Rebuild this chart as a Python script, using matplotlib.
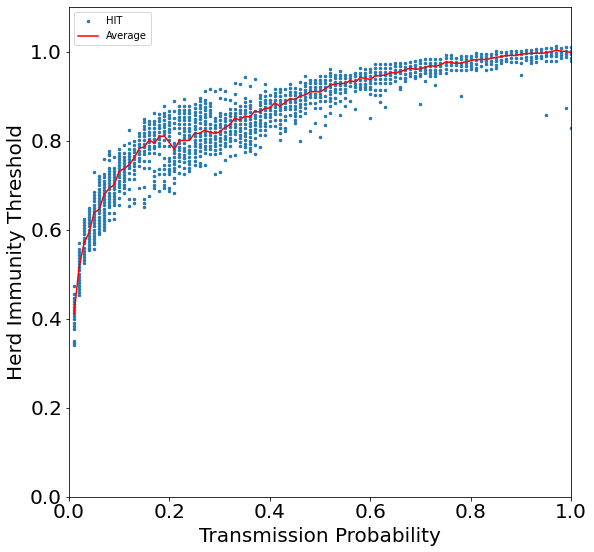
import matplotlib
matplotlib.use("Agg")
import matplotlib.pyplot as plt

# transmission probability steps, 0.01 .. 1.00 (in hundredths)
steps = list(range(1, 101))

# HIT values in thousandths, one list per transmission probability
hit_low = [
    [474, 454, 447, 440, 433, 426, 419, 412, 405, 398, 391, 384, 377, 349, 345, 340],
    [570, 557, 550, 543, 536, 529, 522, 515, 508, 501, 494, 487, 480, 473, 466, 459, 452],
    [624, 617, 610, 603, 596, 589, 582, 575, 570, 559, 552, 545, 538, 531, 525],
    [649, 642, 635, 628, 621, 614, 607, 600, 593, 586, 579, 572, 565, 558, 555],
    [730, 684, 677, 670, 663, 656, 649, 642, 635, 628, 621, 614, 607, 600, 593, 586, 579, 572, 567, 557],
    [720, 713, 706, 699, 692, 685, 678, 671, 664, 657, 650, 643, 636, 629, 622, 615, 608, 601, 594, 589],
    [759, 724, 717, 710, 703, 696, 689, 682, 675, 668, 661, 654, 647, 640, 633, 626, 619, 612, 605, 600],
    [776, 770, 767, 756, 739, 732, 725, 718, 711, 704, 697, 690, 683, 676, 669, 662, 655, 651, 637, 621],
    [764, 739, 732, 725, 718, 711, 704, 697, 690, 683, 676, 669, 662, 656, 638, 624],
    [780, 773, 766, 759, 752, 745, 738, 731, 724, 717, 710, 703, 696, 686, 671, 656],
    [789, 771, 764, 757, 750, 743, 736, 729, 722, 715, 708, 701, 694, 683],
    [823, 795, 780, 773, 766, 759, 752, 745, 738, 728, 713, 690, 668, 653],
    [799, 790, 782, 774, 766, 758, 750, 742, 734, 724, 713, 669, 660],
    [817, 809, 801, 793, 785, 777, 769, 761, 753, 742, 694],
    [849, 841, 833, 825, 817, 809, 801, 793, 785, 777, 769, 754, 739, 696, 668, 660, 651],
    [844, 836, 828, 820, 812, 804, 796, 788, 780, 772, 754, 739, 675],
    [861, 844, 836, 828, 820, 812, 804, 796, 788, 784, 772, 731, 720, 709, 701, 694],
    [859, 851, 843, 835, 827, 819, 811, 803, 795, 787, 769, 735, 724, 686],
    [877, 862, 854, 846, 838, 830, 822, 814, 802, 787, 761, 746, 735, 724, 709, 701, 694],
    [866, 858, 850, 842, 834, 826, 818, 810, 802, 787, 761, 753, 745, 737, 731, 724, 694, 686],
]
hit_mid = [
    [889, 866, 851, 840, 829, 795, 787, 779, 771, 763, 755, 747, 739, 731, 716, 705, 683],
    [877, 869, 861, 853, 845, 837, 829, 817, 802, 794, 786, 778, 770, 762, 754, 742, 727],
    [894, 877, 869, 861, 853, 845, 837, 829, 821, 813, 805, 795, 784, 776, 768, 760, 752, 739, 724],
    [877, 869, 861, 853, 845, 837, 829, 821, 813, 806, 787, 779, 771, 763, 755, 747, 739, 731],
    [881, 873, 865, 857, 849, 841, 833, 825, 817, 809, 802, 795, 787, 779, 771, 763, 755, 746],
    [896, 888, 880, 872, 864, 856, 848, 840, 829, 817, 809, 801, 793, 785, 777, 765, 750, 742],
    [911, 892, 884, 876, 868, 860, 852, 844, 836, 828, 820, 812, 804, 796, 788, 780, 772, 746],
    [915, 885, 877, 869, 861, 855, 836, 828, 820, 812, 804, 796, 788, 780, 769],
    [911, 851, 843, 835, 827, 819, 811, 803, 795, 787, 779, 769, 724],
    [916, 896, 862, 854, 846, 838, 830, 822, 814, 806, 798, 790, 782, 772, 729],
    [911, 894, 859, 851, 843, 835, 827, 819, 811, 803, 795, 787, 757],
    [892, 870, 862, 854, 846, 838, 830, 822, 814, 806, 798, 787, 765],
    [930, 905, 885, 870, 862, 854, 846, 838, 830, 822, 814, 802, 768],
    [926, 877, 869, 861, 853, 845, 837, 829, 821, 813, 805, 797, 787],
    [943, 896, 886, 877, 869, 861, 853, 845, 837, 828, 817, 809, 801, 793, 785, 774],
    [922, 888, 880, 872, 864, 856, 848, 840, 832, 824, 816, 808, 800, 792, 784, 776],
    [938, 866, 858, 850, 842, 834, 826, 818, 806, 791, 770],
    [903, 895, 887, 879, 871, 863, 855, 847, 840, 832, 824, 813, 786],
    [928, 911, 900, 892, 884, 876, 868, 860, 852, 840, 832, 824, 813],
    [903, 892, 884, 876, 868, 860, 852, 844, 832],
    [915, 907, 899, 891, 883, 875, 867, 859, 847, 832],
    [916, 908, 900, 892, 884, 876, 868, 860, 847, 836, 827, 817, 802],
    [916, 903, 892, 884, 876, 870, 855, 847, 828, 821],
    [926, 918, 910, 902, 894, 886, 878, 870, 858],
    [918, 910, 902, 894, 886, 878, 870, 862, 854, 847, 840],
    [931, 915, 907, 899, 891, 883, 875, 866, 855, 800],
    [945, 930, 922, 914, 906, 898, 890, 882, 874, 862],
    [937, 929, 921, 913, 905, 897, 885, 822],
    [937, 929, 921, 913, 905, 897, 885, 873, 840],
    [945, 937, 929, 921, 913, 905, 897, 888, 873, 808],
]
hit_high = [
    [945, 937, 929, 921, 913, 900, 888, 855, 834],
    [960, 952, 944, 936, 928, 920, 912, 904, 896, 888, 877, 862],
    [948, 940, 932, 924, 916, 908, 896, 885],
    [956, 948, 940, 932, 924, 916, 907, 888, 858],
    [948, 940, 932, 924, 916, 908, 896, 877],
    [948, 940, 932, 922, 888],
    [952, 944, 936, 928, 920, 911, 871],
    [963, 952, 944, 936, 928, 920, 915],
    [960, 952, 944, 936, 928, 920, 915],
    [961, 953, 945, 937, 929, 921, 915, 905, 851],
    [971, 963, 955, 947, 939, 930, 913, 903],
    [971, 963, 955, 947, 939, 930, 913, 903, 887],
    [971, 963, 955, 947, 939, 930, 913, 875],
    [971, 963, 955, 947, 939, 930],
    [975, 967, 959, 951, 943, 933],
    [975, 967, 959, 951, 940, 921, 916],
    [974, 966, 958, 950, 940, 933],
    [976, 968, 960, 952, 944],
    [978, 970, 962, 954, 946, 940],
    [982, 974, 966, 958, 950, 944, 882],
    [983, 974, 966, 958, 952, 933],
    [983, 975, 967, 959, 951, 946],
    [983, 975, 967, 959, 951, 946, 925],
    [983, 975, 967, 959, 952],
    [993, 985, 977, 969, 961, 952],
    [993, 985, 977, 969, 959],
    [985, 977, 969, 958],
    [991, 983, 975, 967, 959, 901],
    [991, 983, 975, 967, 959],
    [991, 983, 975, 967, 961],
    [997, 989, 981, 973, 963, 958],
    [995, 987, 979, 968],
    [995, 987, 979, 971, 959],
    [995, 987, 979, 971, 961],
    [1002, 994, 986, 978, 970, 963],
    [998, 990, 982, 974],
    [1000, 992, 984, 978],
    [1002, 994, 986, 976],
    [1002, 994, 986, 976],
    [1002, 994, 986, 974, 947],
    [1004, 996, 988, 982],
    [1004, 996, 988, 982, 974],
    [1006, 998, 990, 985, 976],
    [1006, 998, 990, 985],
    [1008, 1000, 992, 989, 979, 857],
    [1008, 1000, 992, 989, 979],
    [1013, 1005, 997, 991, 979],
    [1008, 1000, 992, 985],
    [1010, 1002, 994, 988, 873],
    [1010, 1002, 994, 985, 978, 827],
]

# average HIT in thousandths
average = [
    410, 514, 570, 593, 638, 645, 679, 692, 701, 731,
    737, 746, 761, 782, 786, 801, 794, 809, 810, 795,
    780, 800, 800, 800, 816, 816, 823, 819, 816, 819,
    829, 835, 850, 846, 855, 853, 866, 864, 872, 873,
    885, 877, 885, 894, 892, 900, 902, 909, 910, 909,
    916, 924, 927, 928, 928, 935, 931, 941, 940, 937,
    945, 946, 947, 952, 952, 955, 959, 963, 960, 961,
    965, 968, 967, 970, 976, 976, 973, 974, 977, 979,
    982, 982, 982, 984, 987, 988, 991, 991, 991, 994,
    995, 996, 996, 996, 997, 1000, 1002, 1001, 1000, 998,
]

hit_columns = hit_low + hit_mid + hit_high
xs = []
ys = []
for step, column in zip(steps, hit_columns):
    for value in column:
        xs.append(step / 100)
        ys.append(value / 1000)

fig = plt.figure(figsize=(594 / 72, 552 / 72), dpi=72)
ax = fig.add_axes([69 / 594, 1 - 496.5 / 552, 502 / 594, 489.5 / 552])

ax.scatter(xs, ys, s=6, color="tab:blue", label="HIT")
ax.plot([s / 100 for s in steps], [v / 1000 for v in average], color="red", label="Average")

ax.set_xlim(0, 1)
ax.set_ylim(0, 1.1)
ax.set_xticks([0, 0.2, 0.4, 0.6, 0.8, 1.0])
ax.set_yticks([0, 0.2, 0.4, 0.6, 0.8, 1.0])
ax.tick_params(labelsize=20)
ax.set_xlabel("Transmission Probability", fontsize=20)
ax.set_ylabel("Herd Immunity Threshold", fontsize=20)
ax.legend(loc="upper left")

fig.savefig("out.png", dpi=72)
